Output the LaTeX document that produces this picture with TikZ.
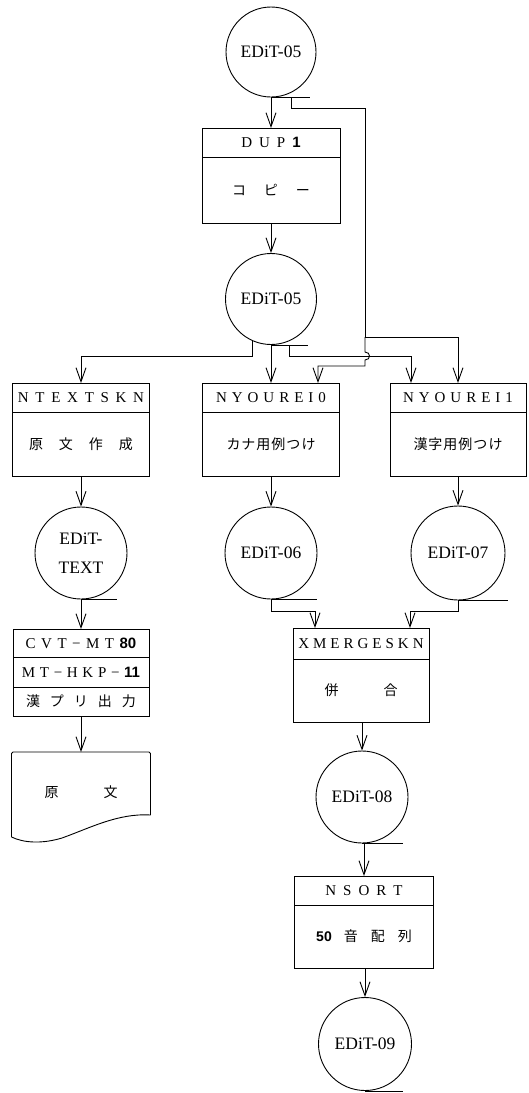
\documentclass[tikz,border=0pt]{standalone}
\usepackage{fontspec}
\setmainfont{Liberation Serif}
\newfontfamily\jp{Noto Sans CJK JP}
\newfontfamily\bsans{Liberation Sans}
\usetikzlibrary{arrows.meta}
\makeatletter
\newcommand\spaced[2]{\def\sp@k{#1}\@tfor\sp@t:=#2\do{\sp@t\kern\sp@k}\unkern}
\makeatother
\newcommand\bd[1]{{\bsans\bfseries #1}}
\begin{document}
\begin{tikzpicture}[x=1pt,y=-1pt,line width=0.9pt,
  ds/.style={draw,circle,minimum size=92pt,inner sep=0pt,align=center,font=\fontsize{17.5}{20}\selectfont},
  hdr/.style={draw,rectangle,minimum height=29pt,inner sep=0pt,outer sep=0pt,anchor=north,font=\fontsize{15}{17}\selectfont},
  bdy/.style={draw,rectangle,minimum height=64pt,inner sep=0pt,outer sep=0pt,anchor=north,font=\jp\fontsize{14}{16}\selectfont},
  arr/.style={-{Straight Barb[length=14pt,width=10pt]}},
  tape/.style={draw}
]
\useasboundingbox (0,0) rectangle (528,1093);

% top data set and DUP1
\node[ds,minimum size=90pt] (c1) at (271,52) {EDiT-05};
\draw (c1.south) -- ++(39,0) coordinate (t1);
\node[hdr,minimum width=138pt] (dupH) at (271,128) {\spaced{7pt}{DUP{\bd{1}}}};
\node[bdy,minimum width=138pt,minimum height=66pt] (dupB) at (dupH.south) {\spaced{18pt}{コピー}};
\draw[arr] (c1.south) -- (dupH.north);

\node[ds,minimum size=91pt] (c2) at (271,299) {EDiT-05};
\draw (c2.south) -- ++(37,0) coordinate (t2);
\draw[arr] (dupB.south) -- (c2.north);

% second row of programs
\node[hdr,minimum width=137pt] (aH) at (81,383) {\spaced{6.7pt}{NTEXTSKN}};
\node[bdy,minimum width=137pt] (aB) at (aH.south) {\spaced{16pt}{原文作成}};
\node[hdr,minimum width=137pt] (bH) at (271,383) {\spaced{5pt}{NYOUREI0}};
\node[bdy,minimum width=137pt] (bB) at (bH.south) {\spaced{1pt}{カナ用例つけ}};
\node[hdr,minimum width=136pt] (cH) at (458,383) {\spaced{5pt}{NYOUREI1}};
\node[bdy,minimum width=136pt] (cB) at (cH.south) {\spaced{1pt}{漢字用例つけ}};

% branches from EDiT-05 (middle)
\draw[arr] (c2.-114) |- ([yshift=27pt]aH.north) -- (aH.north);
\draw[arr] (c2.south) -- (bH.north);
\draw[arr] ([xshift=18pt]c2.south) |- ([xshift=-47pt,yshift=27pt]cH.north) -- ([xshift=-47pt]cH.north);

% loop from top EDiT-05
\coordinate (k1) at (365,108);
\coordinate (k2) at (365,337);
\draw[arr] ([xshift=20pt]c1.south) |- (k1) -- (k2) -| (cH.north);
\draw[arr] (k2) -- (365,352) .. controls (371,352) and (371,360) .. (365,360) -- (365,366) -| ([xshift=47pt]bH.north);

% data sets row
\node[ds,font=\fontsize{17.5}{29}\selectfont] (d1) at (81,553) {EDiT-\\TEXT};
\draw (d1.south) -- ++(36,0) coordinate (t3);
\node[ds] (d2) at (271,553) {EDiT-06};
\draw (d2.south) -- ++(46,0) coordinate (t4);
\node[ds,minimum size=94pt] (d3) at (458,553) {EDiT-07};
\draw (d3.south) -- ++(50,0) coordinate (t5);
\draw[arr] (aB.south) -- (d1.north);
\draw[arr] (bB.south) -- (d2.north);
\draw[arr] (cB.south) -- (d3.north);

% left column: kanji printer output
\node[hdr,minimum width=136pt,minimum height=28pt] (v1) at (81,629) {\spaced{5.5pt}{CVT−MT{\bd{80}}}};
\node[hdr,minimum width=136pt,minimum height=30pt] (v2) at (v1.south) {\spaced{4.7pt}{MT−HKP−{\bd{11}}}};
\node[hdr,minimum width=136pt,minimum height=29pt,font=\jp\fontsize{14}{16}\selectfont] (v3) at (v2.south) {\spaced{10pt}{漢プリ出力}};
\draw[arr] (d1.south) -- (v1.north);

\node[minimum width=139pt,minimum height=80pt,inner sep=0pt,anchor=north,font=\jp\fontsize{14}{16}\selectfont] (doc) at (81,752) {原\kern45pt 文};
\draw[rounded corners=1.5pt] (11.5,837) -- (11.5,752) -- (150.5,752) -- (150.5,815);
\draw (150.5,815) .. controls (118,813) and (90,828) .. (62,838) .. controls (42,844) and (24,843) .. (11.5,837);
\draw[arr] (v3.south) -- (doc.north);

% merge
\node[hdr,minimum width=136pt,minimum height=31pt] (mH) at (361,628) {\spaced{4pt}{XMERGESKN}};
\node[bdy,minimum width=136pt,minimum height=63pt] (mB) at (mH.south) {併\kern45pt 合};
\draw[arr] (d2.south) |- ([xshift=-46pt,yshift=17pt]mH.north) -- ([xshift=-46pt]mH.north);
\draw[arr] (d3.south) |- ([xshift=49pt,yshift=17pt]mH.north) -- ([xshift=49pt]mH.north);

\node[ds] (e8) at (362,797) {EDiT-08};
\draw (e8.south) -- ++(41,0) coordinate (t6);
\draw[arr] (mB.south -| e8.north) -- (e8.north);

% sort
\node[hdr,minimum width=139pt] (nH) at (364,876) {\spaced{7pt}{NSORT}};
\node[bdy,minimum width=139pt,minimum height=63pt] (nB) at (nH.south) {{\bd{50}}\kern12pt \spaced{13pt}{音配列}};
\draw[arr] (e8.south -| nH.north) -- (nH.north);

\node[ds,minimum size=93pt] (e9) at (365,1044) {EDiT-09};
\draw (e9.south) -- ++(38,0) coordinate (t7);
\draw[arr] (nB.south -| e9.north) -- (e9.north);
\end{tikzpicture}
\end{document}
